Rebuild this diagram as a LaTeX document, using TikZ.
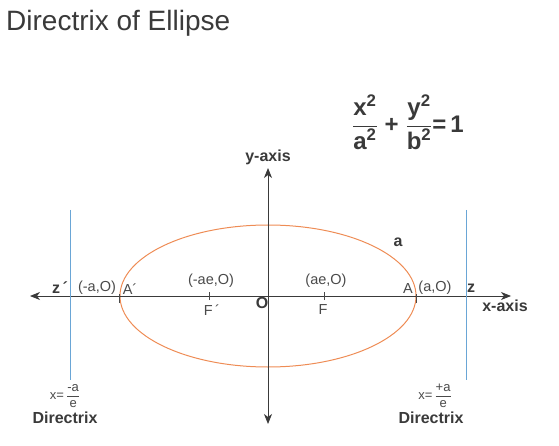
\documentclass[tikz,border=0pt]{standalone}
\usepackage{fontspec}
\setmainfont{Liberation Sans}
\usetikzlibrary{arrows.meta}
\definecolor{axisgray}{HTML}{3A3A3A}
\definecolor{labgray}{HTML}{4A4A4A}
\definecolor{ellorange}{HTML}{EE8C55}
\definecolor{dirblue}{HTML}{6AA6D6}
\tikzset{
  axisline/.style={draw=axisgray, line width=0.9pt, -{Stealth[length=10pt,width=8pt,inset=3pt]}},
  lab/.style={text=labgray, font=\fontsize{14.5}{14.5}\selectfont, inner sep=0pt},
  blab/.style={text=axisgray, font=\fontsize{16}{16}\selectfont\bfseries, inner sep=0pt},
  dirline/.style={draw=dirblue, line width=1pt},
  tick/.style={draw=labgray, line width=0.8pt},
  dirlab/.style={text=labgray, font=\fontsize{13}{13}\selectfont, inner sep=0pt},
}
\begin{document}
\begin{tikzpicture}[x=1pt,y=-1pt]
\useasboundingbox (0,0) rectangle (559,446);
% title
\node[anchor=west, inner sep=0pt, text=axisgray, font=\fontsize{28}{28}\selectfont] (title) at (6,23) {Directrix of Ellipse};
% equation
\node[inner sep=0pt, text=axisgray, font=\fontsize{24}{24}\selectfont\bfseries] (eq) at (408,122)
  {$\displaystyle\frac{\mbox{x\textsuperscript{2}}}{\mbox{a\textsuperscript{2}}}\;\mbox{+}\;\frac{\mbox{y\textsuperscript{2}}}{\mbox{b\textsuperscript{2}}}\mbox{=\,1}$};
% coordinates
\coordinate (O) at (268,296);
\coordinate (xl) at (30,296);
\coordinate (xr) at (511,296);
\coordinate (yt) at (268,168);
\coordinate (yb) at (268,424);
% ellipse
\draw[ellorange, line width=1pt] (O) ellipse [x radius=148, y radius=71];
% axes
\draw[axisline] (O) -- (xl);
\draw[axisline] (O) -- (xr);
\draw[axisline] (O) -- (yt);
\draw[axisline] (O) -- (yb);
% directrices
\coordinate (dlt) at (70,210);
\coordinate (dlb) at (70,380);
\coordinate (drt) at (466,210);
\coordinate (drb) at (466,380);
\draw[dirline] (dlt) -- (dlb);
\draw[dirline] (drt) -- (drb);
% ticks
\coordinate (Fp) at (209,296);
\coordinate (F) at (324,296);
\coordinate (Ap) at (119,296);
\coordinate (A) at (416,296);
\draw[tick] ([yshift=-4pt]Fp) -- ([yshift=4pt]Fp);
\draw[tick] ([yshift=-4pt]F) -- ([yshift=4pt]F);
\draw[tick] ([yshift=-7pt]Ap) -- ([yshift=2pt]Ap);
\draw[tick] ([yshift=-7pt]A) -- ([yshift=2pt]A);
% labels
\node[blab] (zp) at (60,288) {z\,´};
\node[lab] (maO) at (97,288) {(-a,O)};
\node[lab] (Apl) at (130,289) {A´};
\node[lab] (maeO) at (211,281) {(-ae,O)};
\node[lab] (Fpl) at (212,310) {F\,´};
\node[blab] (Ol) at (262,303) {O};
\node[lab] (aeO) at (326,281) {(ae,O)};
\node[lab] (Fl) at (323,310) {F};
\node[lab] (Al) at (408,289) {A};
\node[lab] (aO) at (435,288) {(a,O)};
\node[blab] (zl) at (471,288) {z};
\node[blab] (xaxis) at (505,306) {x-axis};
\node[blab] (yaxis) at (268,157) {y-axis};
\node[blab] (al) at (398,242) {a};
% directrix labels
\node[dirlab] (dle) at (65,396) {x=\,$\displaystyle\frac{\mbox{-a}}{\mbox{e}}$};
\node[blab] (dln) at (65,418) {Directrix};
\node[dirlab] (dre) at (435,396) {x=\,$\displaystyle\frac{\mbox{+a}}{\mbox{e}}$};
\node[blab] (drn) at (431,418) {Directrix};
\end{tikzpicture}
\end{document}
